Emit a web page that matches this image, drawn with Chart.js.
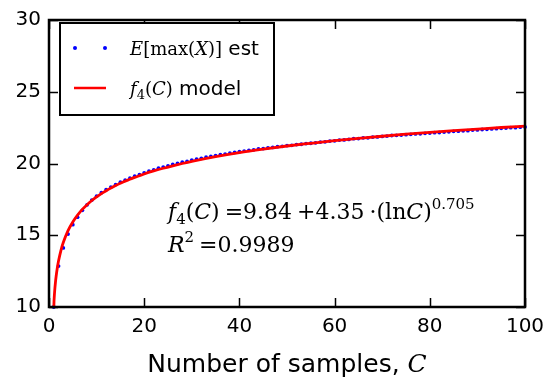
<!DOCTYPE html>
<html><head><meta charset="utf-8">
<script src="https://cdn.jsdelivr.net/npm/chart.js@4/dist/chart.umd.min.js"></script>
<style>html,body{margin:0;padding:0;background:#fff}</style>
</head><body>
<canvas id="c" width="555" height="385" style="width:555px;height:385px;display:block"></canvas>
<script>
// ---- data ----
const samples = [1,2,3,4,5,6,7,8,9,10,11,12,13,14,15,16,17,18,19,20,21,22,23,24,25,26,27,28,29,30,31,32,33,34,35,36,37,38,39,40,41,42,43,44,45,46,47,48,49,50,51,52,53,54,55,56,57,58,59,60,61,62,63,64,65,66,67,68,69,70,71,72,73,74,75,76,77,78,79,80,81,82,83,84,85,86,87,88,89,90,91,92,93,94,95,96,97,98,99,100];
const estValues = [10.00,12.85,14.12,15.08,15.74,16.26,16.74,17.12,17.45,17.72,17.96,18.17,18.36,18.53,18.70,18.84,18.98,19.11,19.22,19.35,19.46,19.56,19.67,19.75,19.84,19.93,20.00,20.09,20.15,20.24,20.30,20.36,20.44,20.49,20.55,20.61,20.66,20.72,20.77,20.82,20.86,20.92,20.95,21.01,21.04,21.09,21.12,21.17,21.20,21.25,21.27,21.32,21.34,21.39,21.41,21.44,21.49,21.51,21.56,21.58,21.63,21.64,21.68,21.73,21.74,21.79,21.79,21.84,21.85,21.89,21.91,21.95,21.96,21.98,22.01,22.03,22.06,22.07,22.10,22.12,22.15,22.16,22.19,22.21,22.24,22.25,22.28,22.29,22.33,22.34,22.37,22.38,22.41,22.43,22.45,22.47,22.50,22.50,22.53,22.55];
const modelC = [1,1.05,1.1,1.2,1.35,1.5,1.75,2,2.5,3,4,5,6,7,8,9,10,11,12,13,14,15,16,17,18,19,20,22,24,26,28,30,35,40,45,50,55,60,65,70,75,80,85,90,95,100];
const modelValues = [9.84,10.36,10.67,11.15,11.70,12.14,12.73,13.20,13.93,14.49,15.32,15.92,16.40,16.80,17.13,17.42,17.67,17.90,18.10,18.29,18.46,18.62,18.77,18.90,19.03,19.15,19.27,19.48,19.67,19.84,20.00,20.15,20.48,20.76,21.00,21.22,21.41,21.59,21.75,21.90,22.04,22.17,22.29,22.40,22.51,22.61];
const xTicks = [0,20,40,60,80,100];
const yTicks = [10,15,20,25,30];
const estLabel = "E[max(X)] est";
const modelLabel = "f4(C) model";
const xTitle = "Number of samples, C";

const estPts = samples.map((c,i)=>({x:c,y:estValues[i]}));
const modelPts = modelC.map((c,i)=>({x:c,y:modelValues[i]}));

function runs(ctx, x, y, list){
  for(const r of list){
    ctx.font = r.f;
    ctx.fillText(r.t, x, y + (r.dy||0));
    x += ctx.measureText(r.t).width + (r.g||0);
  }
  return x;
}
function runsWidth(ctx, list){
  let w=0;
  for(const r of list){ctx.font=r.f; w+=ctx.measureText(r.t).width+(r.g||0);}
  return w;
}

const SANS = "'DejaVu Sans'";
const SERIF = "'DejaVu Serif'";

const decor = {
  id:'decor',
  afterDatasetsDraw(chart){
    const ctx = chart.ctx, a = chart.chartArea;
    const xs = chart.scales.x, ys = chart.scales.y;
    ctx.save();
    ctx.strokeStyle = '#000';
    // inward ticks
    ctx.lineWidth = 1.5;
    ctx.beginPath();
    for(const v of xTicks){
      const px = Math.round(xs.getPixelForValue(v))+0.5;
      ctx.moveTo(px,a.bottom); ctx.lineTo(px,a.bottom-9);
      ctx.moveTo(px,a.top); ctx.lineTo(px,a.top+9);
    }
    for(const v of yTicks){
      const py = Math.round(ys.getPixelForValue(v))+0.5;
      ctx.moveTo(a.left,py); ctx.lineTo(a.left+9,py);
      ctx.moveTo(a.right,py); ctx.lineTo(a.right-9,py);
    }
    ctx.stroke();
    // frame
    ctx.lineWidth = 2.5;
    ctx.strokeRect(a.left, a.top, a.right-a.left, a.bottom-a.top);

    // legend
    ctx.fillStyle = '#fff';
    ctx.fillRect(60,23,214,92);
    ctx.lineWidth = 2;
    ctx.strokeRect(60,23,214,92);
    ctx.fillStyle = '#0000ff';
    for(const dx of [75,105]){ctx.beginPath();ctx.arc(dx,48,2,0,Math.PI*2);ctx.fill();}
    ctx.strokeStyle = '#ff0000'; ctx.lineWidth = 2.5;
    ctx.beginPath(); ctx.moveTo(74,88); ctx.lineTo(106,88); ctx.stroke();
    ctx.fillStyle = '#000'; ctx.textBaseline = 'alphabetic'; ctx.textAlign = 'left';
    runs(ctx, 130, 55, [
      {t:'E', f:`italic 18px ${SERIF}`},
      {t:'[max(', f:`18px ${SERIF}`},
      {t:'X', f:`italic 18px ${SERIF}`},
      {t:')]', f:`18px ${SERIF}`},
      {t:' est', f:`20px ${SANS}`}
    ]);
    runs(ctx, 130, 95, [
      {t:'f', f:`italic 18px ${SERIF}`},
      {t:'4', f:`13px ${SERIF}`, dy:4},
      {t:'(', f:`18px ${SERIF}`},
      {t:'C', f:`italic 18px ${SERIF}`},
      {t:')', f:`18px ${SERIF}`},
      {t:' model', f:`20px ${SANS}`}
    ]);

    // annotation
    const fs = 22, sf = `${fs}px ${SERIF}`, si = `italic ${fs}px ${SERIF}`, sm = `15px ${SERIF}`;
    runs(ctx, 168, 219, [
      {t:'f', f:si},
      {t:'4', f:sm, dy:5},
      {t:'(', f:sf},{t:'C', f:si},{t:')', f:sf, g:5},
      {t:'=9.84', f:sf, g:5},
      {t:'+4.35', f:sf, g:5},
      {t:'·(ln', f:sf},{t:'C', f:si},{t:')', f:sf},
      {t:'0.705', f:sm, dy:-10}
    ]);
    runs(ctx, 168, 252, [
      {t:'R', f:si},
      {t:'2', f:sm, dy:-10, g:5},
      {t:'=0.9989', f:sf}
    ]);

    // x axis title
    const tl = [
      {t:'Number of samples, ', f:`25px ${SANS}`},
      {t:'C', f:`italic 25px ${SERIF}`}
    ];
    const w = runsWidth(ctx, tl);
    runs(ctx, (a.left+a.right)/2 - w/2, 372, tl);
    ctx.restore();
  }
};

new Chart(document.getElementById('c'), {
  type:'scatter',
  data:{datasets:[
    {label:modelLabel, data:modelPts, showLine:true, borderColor:'#ff0000', borderWidth:2.8,
     pointRadius:0, pointHoverRadius:0, tension:0.4, cubicInterpolationMode:'monotone', fill:false, order:0, clip:0},
    {label:estLabel, data:estPts, showLine:false, pointRadius:1.9, pointBorderWidth:0,
     pointBackgroundColor:'#0000ff', pointBorderColor:'#0000ff', order:1, clip:2}
  ]},
  options:{
    responsive:false, animation:false, devicePixelRatio:1,
    layout:{padding:{left:0,right:30,top:14,bottom:0}},
    plugins:{legend:{display:false}, tooltip:{enabled:false}},
    scales:{
      x:{type:'linear', min:0, max:100,
         afterBuildTicks(s){s.ticks = xTicks.map(v=>({value:v}));},
         afterFit(s){s.height = 78;},
         ticks:{font:{family:'DejaVu Sans', size:20}, color:'#000', padding:8, maxRotation:0},
         grid:{display:false, drawTicks:false}, border:{display:false}},
      y:{min:10, max:30,
         afterBuildTicks(s){s.ticks = yTicks.map(v=>({value:v}));},
         afterFit(s){s.width = 49;},
         ticks:{font:{family:'DejaVu Sans', size:20}, color:'#000', padding:8},
         grid:{display:false, drawTicks:false}, border:{display:false}}
    }
  },
  plugins:[decor]
});
</script>
</body></html>
